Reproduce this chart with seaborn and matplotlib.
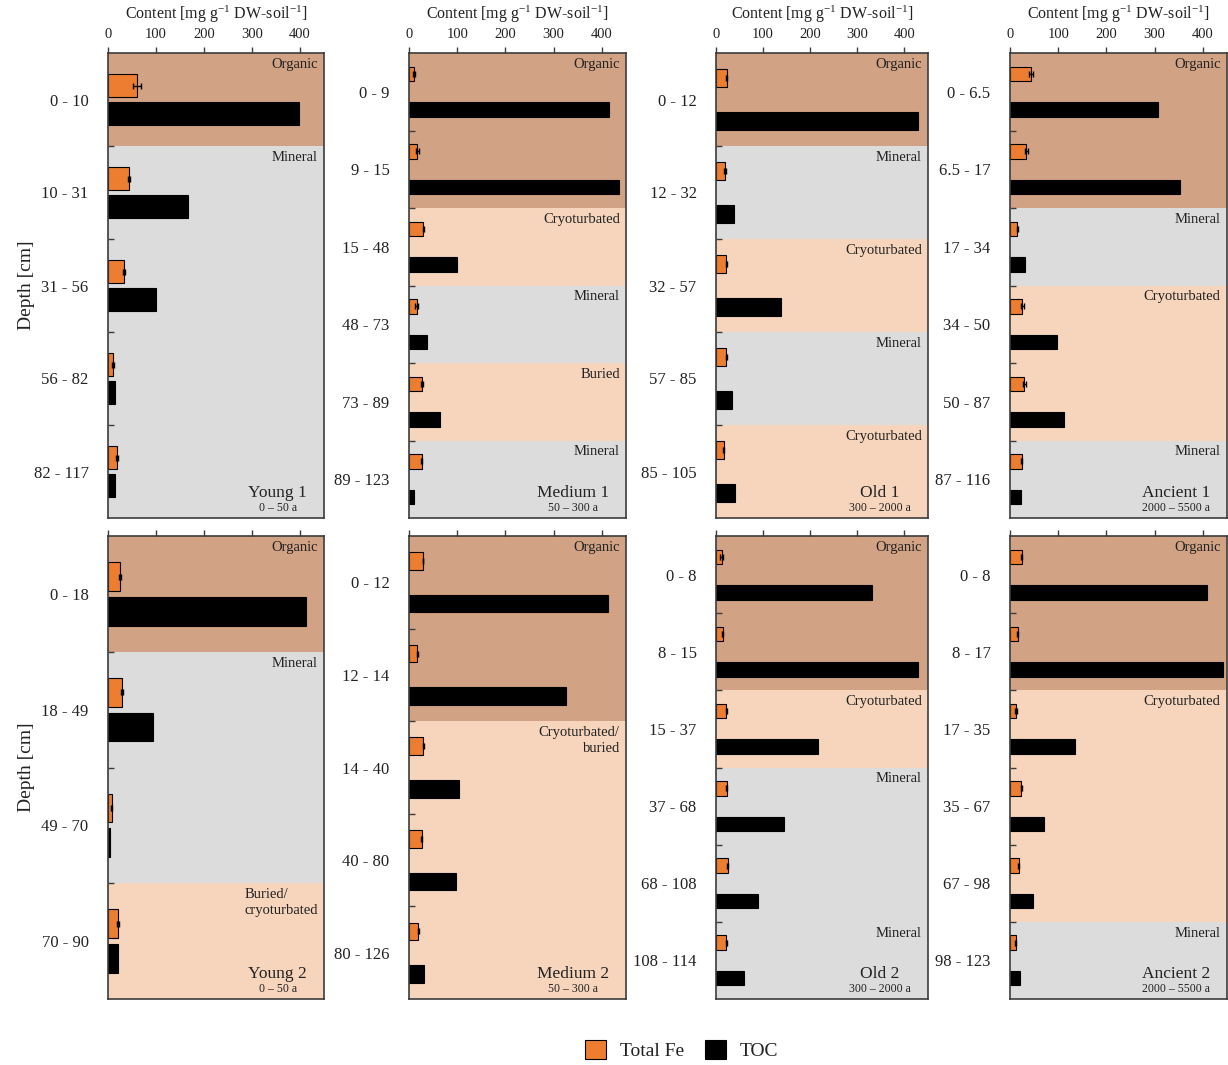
import numpy as np
import pandas as pd
import matplotlib
matplotlib.use("Agg")
import matplotlib.pyplot as plt
import matplotlib.transforms as mtransforms
from matplotlib.patches import Patch
from matplotlib.offsetbox import AnchoredOffsetbox, VPacker, TextArea
import seaborn as sns

# ---------------------------------------------------------------------------
# Soil profiles: depth layers [cm], total Fe (mean, sd) and TOC [mg g-1]
# horizons: (first layer index, last layer index, horizon name)
# ---------------------------------------------------------------------------
young1_depth = ["0 - 10", "10 - 31", "31 - 56", "56 - 82", "82 - 117"]
young1_fe = [60, 43, 34, 11, 18]
young1_fe_sd = [8, 2, 2, 2, 2]
young1_toc = [398, 167, 100, 14, 15]
young1_horizons = [(0, 0, "Organic"), (1, 4, "Mineral")]

medium1_depth = ["0 - 9", "9 - 15", "15 - 48", "48 - 73", "73 - 89", "89 - 123"]
medium1_fe = [11, 17, 30, 16, 26, 26]
medium1_fe_sd = [2, 3, 2, 3, 2, 1]
medium1_toc = [414, 435, 99, 37, 64, 10]
medium1_horizons = [(0, 1, "Organic"), (2, 2, "Cryoturbated"), (3, 3, "Mineral"),
                    (4, 4, "Buried"), (5, 5, "Mineral")]

old1_depth = ["0 - 12", "12 - 32", "32 - 57", "57 - 85", "85 - 105"]
old1_fe = [23, 19, 22, 22, 16]
old1_fe_sd = [1, 2, 1, 1, 2]
old1_toc = [428, 39, 137, 34, 40]
old1_horizons = [(0, 0, "Organic"), (1, 1, "Mineral"), (2, 2, "Cryoturbated"),
                 (3, 3, "Mineral"), (4, 4, "Cryoturbated")]

ancient1_depth = ["0 - 6.5", "6.5 - 17", "17 - 34", "34 - 50", "50 - 87", "87 - 116"]
ancient1_fe = [43, 34, 15, 25, 30, 24]
ancient1_fe_sd = [4, 3, 1, 3, 4, 1]
ancient1_toc = [307, 352, 31, 97, 113, 23]
ancient1_horizons = [(0, 1, "Organic"), (2, 2, "Mineral"), (3, 4, "Cryoturbated"),
                     (5, 5, "Mineral")]

young2_depth = ["0 - 18", "18 - 49", "49 - 70", "70 - 90"]
young2_fe = [25, 29, 8, 21]
young2_fe_sd = [2, 2, 1, 2]
young2_toc = [412, 94, 5, 21]
young2_horizons = [(0, 0, "Organic"), (1, 2, "Mineral"), (3, 3, "Buried/\ncryoturbated")]

medium2_depth = ["0 - 12", "12 - 14", "14 - 40", "40 - 80", "80 - 126"]
medium2_fe = [29, 17, 30, 26, 19]
medium2_fe_sd = [1, 1, 1, 1, 1]
medium2_toc = [413, 325, 104, 98, 31]
medium2_horizons = [(0, 1, "Organic"), (2, 4, "Cryoturbated/\nburied")]

old2_depth = ["0 - 8", "8 - 15", "15 - 37", "37 - 68", "68 - 108", "108 - 114"]
old2_fe = [12, 14, 22, 23, 25, 22]
old2_fe_sd = [3, 1, 1, 1, 1, 1]
old2_toc = [332, 429, 217, 144, 90, 59]
old2_horizons = [(0, 1, "Organic"), (2, 2, "Cryoturbated"), (3, 4, "Mineral"),
                 (5, 5, "Mineral")]

ancient2_depth = ["0 - 8", "8 - 17", "17 - 35", "35 - 67", "67 - 98", "98 - 123"]
ancient2_fe = [24, 16, 12, 23, 18, 12]
ancient2_fe_sd = [1, 1, 2, 1, 1, 1]
ancient2_toc = [408, 441, 135, 70, 47, 21]
ancient2_horizons = [(0, 1, "Organic"), (2, 4, "Cryoturbated"), (5, 5, "Mineral")]

profile_names = ["Young 1", "Medium 1", "Old 1", "Ancient 1",
                 "Young 2", "Medium 2", "Old 2", "Ancient 2"]
profile_ages = ["0 – 50 a", "50 – 300 a", "300 – 2000 a", "2000 – 5500 a"] * 2
x_ticks = [0, 100, 200, 300, 400]
series_names = ["Total Fe", "TOC"]

profiles = [
    (young1_depth, young1_fe, young1_fe_sd, young1_toc, young1_horizons),
    (medium1_depth, medium1_fe, medium1_fe_sd, medium1_toc, medium1_horizons),
    (old1_depth, old1_fe, old1_fe_sd, old1_toc, old1_horizons),
    (ancient1_depth, ancient1_fe, ancient1_fe_sd, ancient1_toc, ancient1_horizons),
    (young2_depth, young2_fe, young2_fe_sd, young2_toc, young2_horizons),
    (medium2_depth, medium2_fe, medium2_fe_sd, medium2_toc, medium2_horizons),
    (old2_depth, old2_fe, old2_fe_sd, old2_toc, old2_horizons),
    (ancient2_depth, ancient2_fe, ancient2_fe_sd, ancient2_toc, ancient2_horizons),
]

# ---------------------------------------------------------------------------
# Styling
# ---------------------------------------------------------------------------
sns.set_style("white")
plt.rcParams["font.family"] = ["Liberation Serif", "DejaVu Serif"]
plt.rcParams["mathtext.fontset"] = "custom"
plt.rcParams["mathtext.rm"] = "Liberation Serif"
plt.rcParams["mathtext.it"] = "Liberation Serif:italic"

palette = {"Total Fe": "#ED7D31", "TOC": "#000000"}
horizon_colors = {"organic": "#D2A284", "mineral": "#DCDCDC", "other": "#F6D5BC"}
label_multialign = {"Buried/\ncryoturbated": "left"}
frame_color = "#3c3c3c"

fig = plt.figure(figsize=(12.28, 10.65), dpi=100)
W, H = 1228.0, 1065.0
col_left = [108, 409, 716, 1010]
col_width = [216, 217, 212, 217]
row_top = [53, 536]
row_bottom = [518, 999]


def horizon_color(name):
    key = name.lower()
    if key.startswith("organic"):
        return horizon_colors["organic"]
    if key.startswith("mineral"):
        return horizon_colors["mineral"]
    return horizon_colors["other"]


for k, (depth, fe, fe_sd, toc, horizons) in enumerate(profiles):
    row, col = divmod(k, 4)
    left = col_left[col] / W
    bottom = 1 - row_bottom[row] / H
    ax = fig.add_axes([left, bottom, col_width[col] / W,
                       (row_bottom[row] - row_top[row]) / H])
    n = len(depth)
    young = profile_names[k].startswith("Young")

    df = pd.DataFrame({
        "Depth": depth * 2,
        "Content": list(fe) + list(toc),
        "Variable": [series_names[0]] * n + [series_names[1]] * n,
    })
    sns.barplot(data=df, x="Content", y="Depth", hue="Variable",
                hue_order=series_names, palette=palette, orient="h",
                width=0.6 if young else 0.92, gap=0.17 if young else 0.59,
                saturation=1, errorbar=None, legend=False,
                edgecolor="black", linewidth=0.8, ax=ax, zorder=2)

    # standard deviation of total Fe
    fe_bars = None
    for cont in ax.containers:
        widths = [p.get_width() for p in cont.patches]
        if np.allclose(widths, fe):
            fe_bars = cont
    ys = [p.get_y() + p.get_height() / 2 for p in fe_bars.patches]
    ax.errorbar(fe, ys, xerr=fe_sd, fmt="none", ecolor="black",
                elinewidth=1.0, capsize=2, capthick=1.0, zorder=3)

    # horizon bands with their names
    blend = mtransforms.blended_transform_factory(ax.transAxes, ax.transData)
    for start, end, name in horizons:
        ax.axhspan(start - 0.5, end + 0.5, color=horizon_color(name),
                   lw=0, zorder=0.5)
        ax.annotate(name, xy=(1, start - 0.5), xycoords=blend,
                    xytext=(-4.5, -3.5), textcoords="offset points",
                    ha="right", va="top", fontsize=10.5, linespacing=1.25,
                    multialignment=label_multialign.get(name, "right"),
                    color="#222222", zorder=4)

    ax.set_xlim(0, 450)
    ax.set_ylim(n - 0.5, -0.5)

    # axes frame and ticks
    for sp in ax.spines.values():
        sp.set_visible(True)
        sp.set_color(frame_color)
        sp.set_linewidth(1.2)
    ax.xaxis.tick_top()
    ax.set_xticks(x_ticks)
    ax.tick_params(axis="x", which="major", direction="out", length=4,
                   width=1.0, color=frame_color, pad=5, labelsize=10.5,
                   top=True, bottom=False, labeltop=(row == 0),
                   labelbottom=False, labelcolor="#222222")
    ax.set_yticks(range(n))
    ax.set_yticklabels(depth)
    ax.set_yticks(np.arange(n - 1) + 0.5, minor=True)
    ax.tick_params(axis="y", which="major", length=0, pad=14,
                   labelsize=12, labelcolor="#222222")
    ax.tick_params(axis="y", which="minor", direction="in", length=4,
                   width=1.0, color=frame_color, left=True, right=False)

    if row == 0:
        ax.xaxis.set_label_position("top")
        ax.set_xlabel(r"Content [mg g$^{\mathregular{-1}}$ DW-soil$^{\mathregular{-1}}$]",
                      fontsize=11.5, labelpad=6, color="#222222")
    else:
        ax.set_xlabel("")
    if col == 0:
        ax.set_ylabel("Depth [cm]", fontsize=14, color="#222222")
        ax.yaxis.set_label_coords(-0.34, 0.5)
    else:
        ax.set_ylabel("")

    # profile name and age range
    box = VPacker(children=[
        TextArea(profile_names[k], textprops=dict(fontsize=12.5, color="#222222")),
        TextArea(profile_ages[k], textprops=dict(fontsize=8.5, color="#222222")),
    ], align="center", pad=0, sep=1)
    anchor = AnchoredOffsetbox(
        loc="lower right", child=box, pad=0, borderpad=0, frameon=False,
        bbox_to_anchor=(1, 0),
        bbox_transform=ax.transAxes + mtransforms.ScaledTranslation(
            -17 / 100, 4 / 100, fig.dpi_scale_trans))
    anchor.set_zorder(5)
    ax.add_artist(anchor)

handles = [Patch(facecolor=palette[s], edgecolor="black", linewidth=0.8, label=s)
           for s in series_names]
fig.legend(handles=handles, loc="center", bbox_to_anchor=(0.555, 0.014),
           ncol=2, frameon=False, fontsize=14, handlelength=1.1,
           handleheight=1.1, handletextpad=0.7, columnspacing=1.1,
           labelcolor="#222222")

fig.savefig("out.png", dpi=100)
